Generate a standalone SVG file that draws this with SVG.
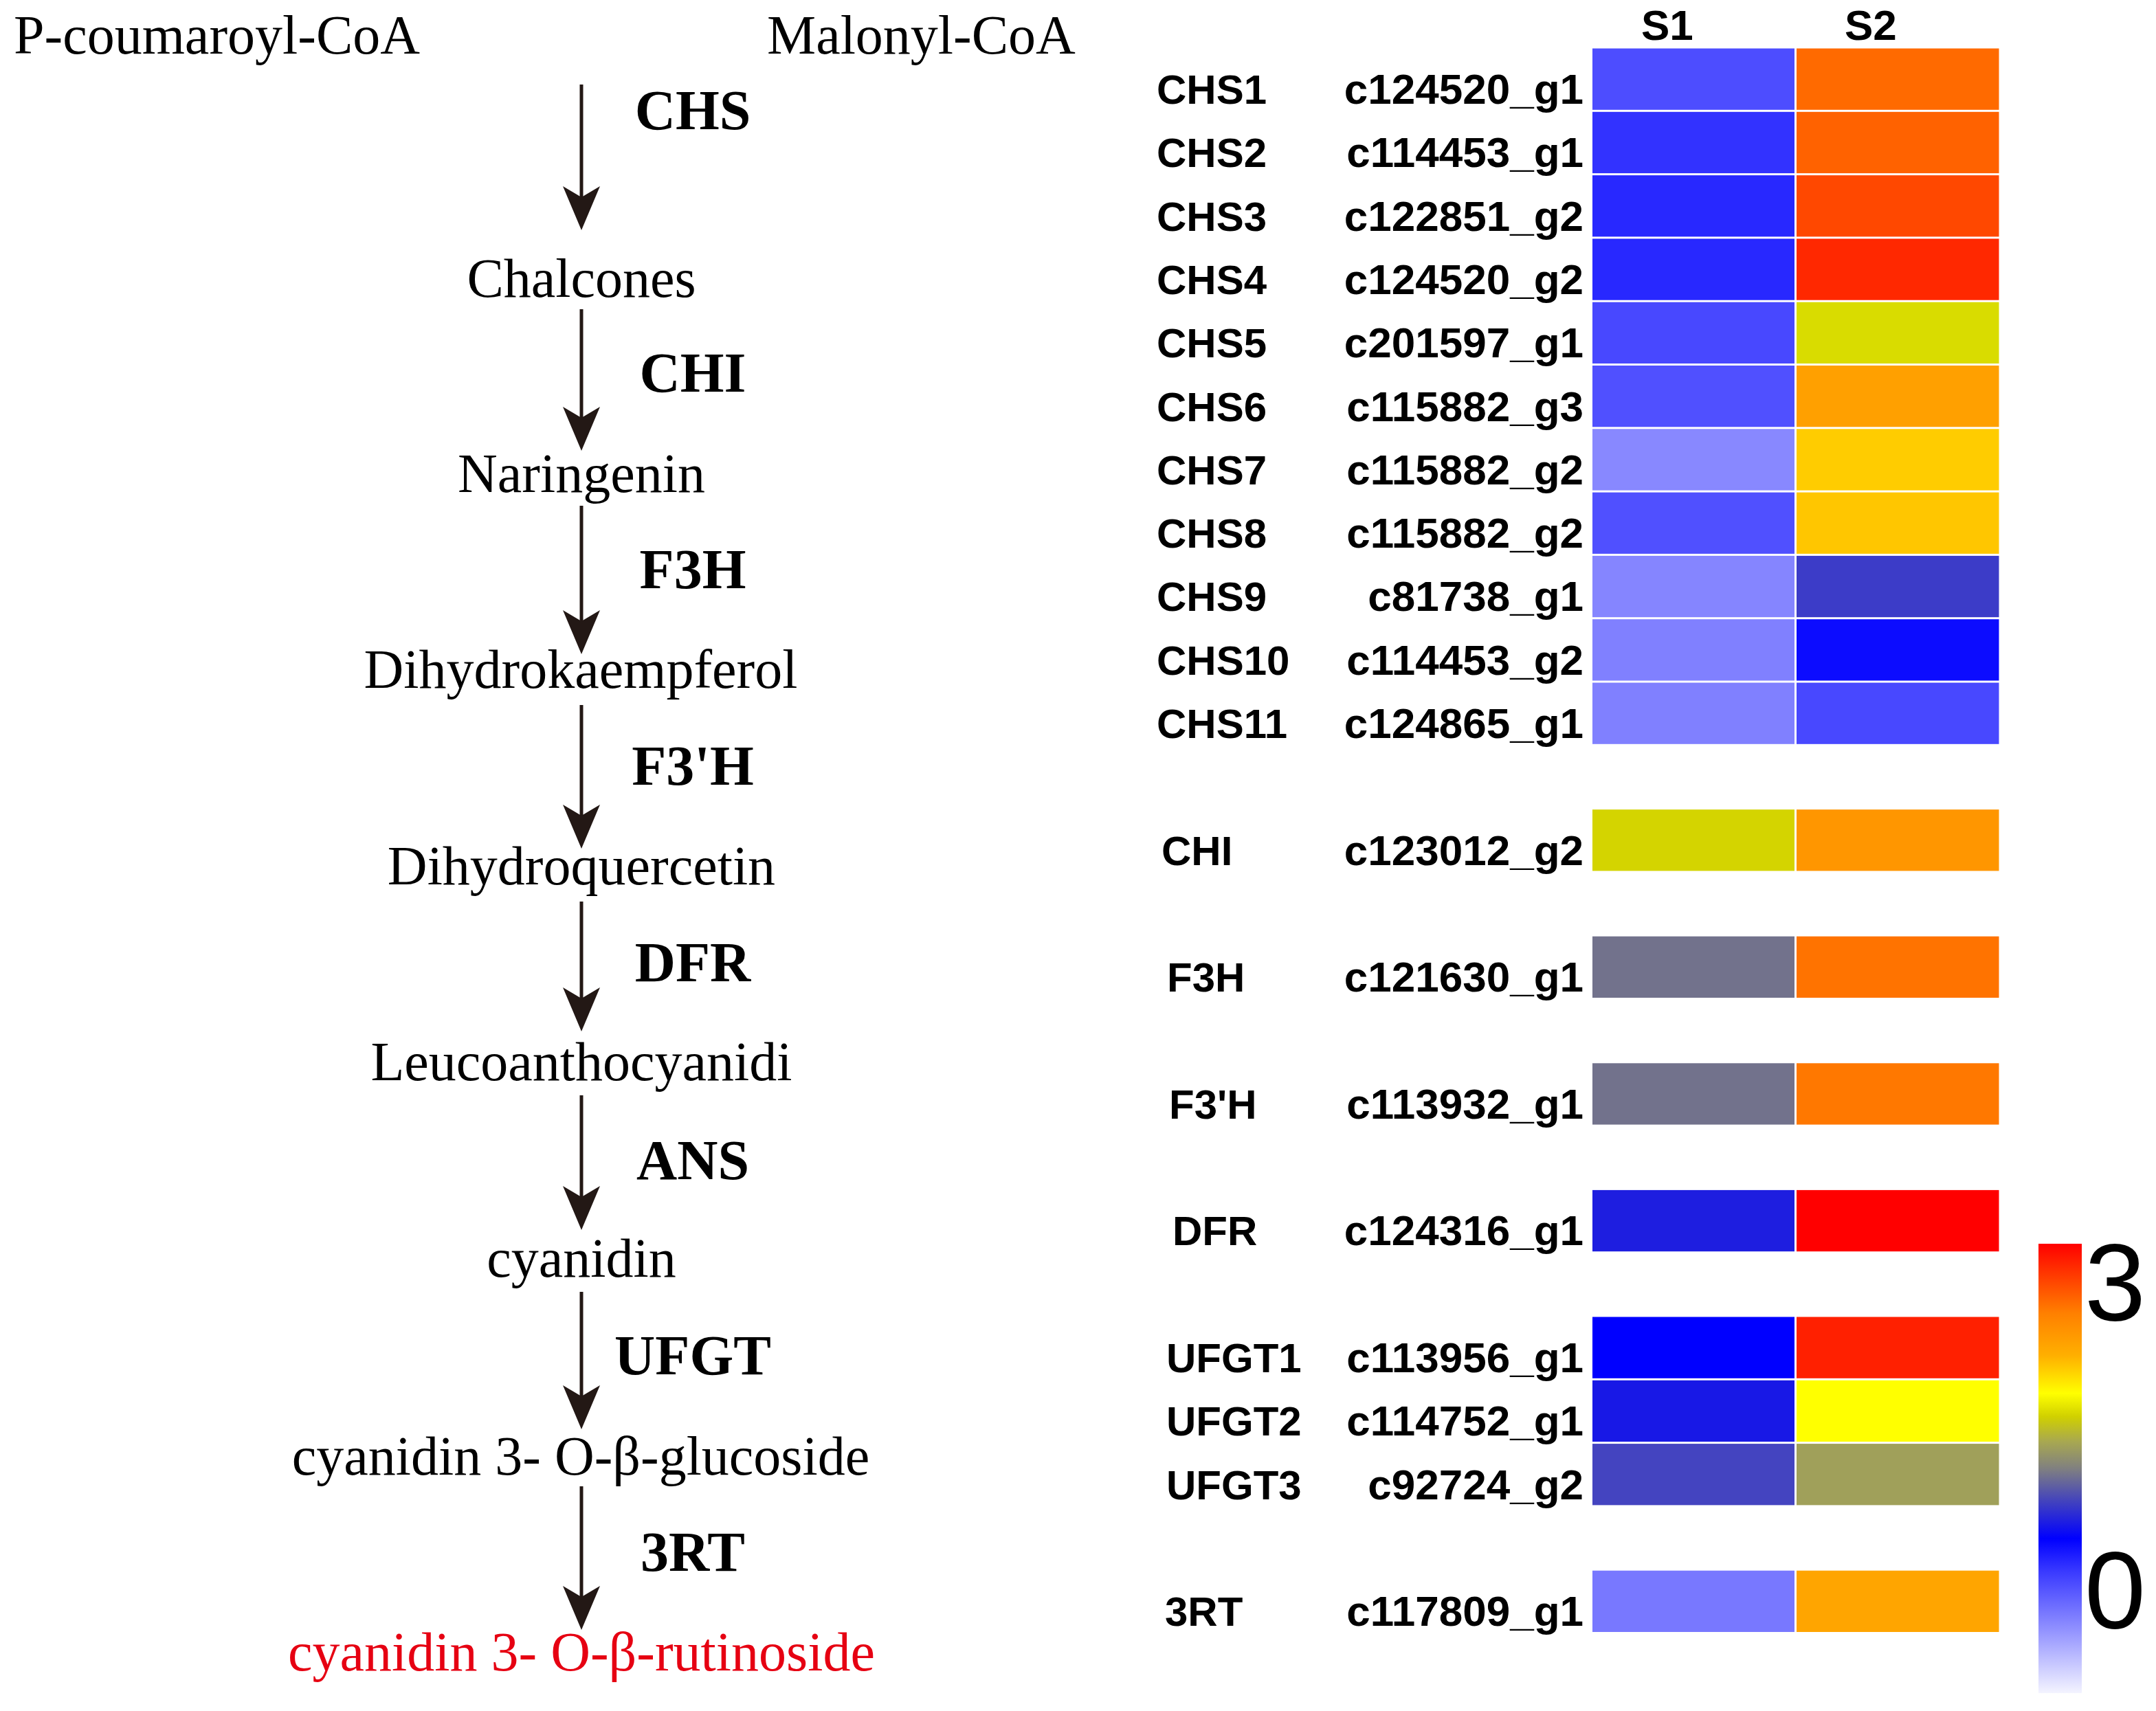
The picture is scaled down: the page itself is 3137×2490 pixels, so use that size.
<svg xmlns="http://www.w3.org/2000/svg" xmlns:xlink="http://www.w3.org/1999/xlink" width="3137" height="2490" viewBox="0 0 3137 2490">
<style>
.cmp{font-family:"Liberation Serif","Times New Roman",serif;font-size:80px;fill:#000;text-anchor:middle}
.src{font-family:"Liberation Serif","Times New Roman",serif;font-size:80px;fill:#000}
.enz{font-family:"Liberation Serif","Times New Roman",serif;font-size:82px;font-weight:bold;fill:#000;text-anchor:middle}
.lbl{font-family:"Liberation Sans",Arial,sans-serif;font-size:60px;font-weight:bold;fill:#000}
.gid{font-family:"Liberation Sans",Arial,sans-serif;font-size:62px;font-weight:bold;fill:#000;text-anchor:end}
.hdr{font-family:"Liberation Sans",Arial,sans-serif;font-size:62px;font-weight:bold;fill:#000}
.scl{font-family:"Liberation Sans",Arial,sans-serif;font-size:160px;fill:#000}
.ln{stroke:#231815;stroke-width:5;fill:none}
.hd{fill:#231815}
</style>
<defs>
<path id="head" d="M0,0 L-27,-64 L0,-48 L27,-64 Z"/>
<linearGradient id="cbar" x1="0" y1="0" x2="0" y2="1">
<stop offset="0" stop-color="#ff0000"/>
<stop offset="0.155" stop-color="#ff8000"/>
<stop offset="0.25" stop-color="#ffb000"/>
<stop offset="0.333" stop-color="#ffff00"/>
<stop offset="0.385" stop-color="#d0d000"/>
<stop offset="0.44" stop-color="#a8a850"/>
<stop offset="0.5" stop-color="#808080"/>
<stop offset="0.566" stop-color="#4848b8"/>
<stop offset="0.656" stop-color="#0000ff"/>
<stop offset="0.73" stop-color="#3a3aff"/>
<stop offset="0.857" stop-color="#9090ff"/>
<stop offset="1" stop-color="#f4f4ff"/>
</linearGradient>
</defs>
<rect width="3137" height="2490" fill="#fff"/>

<g id="n-pcoumaroyl"><text class="src" x="20" y="78">P-coumaroyl-CoA</text></g>
<g id="n-malonyl"><text class="src" x="1116" y="78">Malonyl-CoA</text></g>
<g id="n-chalcones"><text class="cmp" x="846" y="432">Chalcones</text></g>
<g id="n-naringenin"><text class="cmp" x="846" y="716">Naringenin</text></g>
<g id="n-dihydrokaempferol"><text class="cmp" x="845" y="1001">Dihydrokaempferol</text></g>
<g id="n-dihydroquercetin"><text class="cmp" x="846" y="1287">Dihydroquercetin</text></g>
<g id="n-leucoanthocyanidi"><text class="cmp" x="846" y="1572">Leucoanthocyanidi</text></g>
<g id="n-cyanidin"><text class="cmp" x="846" y="1858">cyanidin</text></g>
<g id="n-glucoside"><text class="cmp" x="845" y="2146">cyanidin 3- O-β-glucoside</text></g>
<g id="n-rutinoside"><text class="cmp" x="846" y="2431" style="fill:#e60012">cyanidin 3- O-β-rutinoside</text></g>

<g id="connectors">
<line class="ln" x1="846" y1="123" x2="846" y2="290"/><use href="#head" class="hd" x="846" y="335"/>
<text class="enz" x="1008" y="188">CHS</text>
<line class="ln" x1="846" y1="450" x2="846" y2="611"/><use href="#head" class="hd" x="846" y="656"/>
<text class="enz" x="1008" y="570">CHI</text>
<line class="ln" x1="846" y1="736" x2="846" y2="907"/><use href="#head" class="hd" x="846" y="952"/>
<text class="enz" x="1008" y="856">F3H</text>
<line class="ln" x1="846" y1="1026" x2="846" y2="1190"/><use href="#head" class="hd" x="846" y="1235"/>
<text class="enz" x="1008" y="1142">F3'H</text>
<line class="ln" x1="846" y1="1312" x2="846" y2="1456"/><use href="#head" class="hd" x="846" y="1501"/>
<text class="enz" x="1008" y="1428">DFR</text>
<line class="ln" x1="846" y1="1594" x2="846" y2="1745"/><use href="#head" class="hd" x="846" y="1790"/>
<text class="enz" x="1008" y="1716">ANS</text>
<line class="ln" x1="846" y1="1880" x2="846" y2="2035"/><use href="#head" class="hd" x="846" y="2080"/>
<text class="enz" x="1008" y="2000">UFGT</text>
<line class="ln" x1="846" y1="2163" x2="846" y2="2327"/><use href="#head" class="hd" x="846" y="2372"/>
<text class="enz" x="1008" y="2286">3RT</text>
</g>

<g id="heatmap-header">
<text class="hdr" x="2388" y="58">S1</text>
<text class="hdr" x="2684" y="58">S2</text>
</g>

<g id="row-CHS1"><text class="lbl" x="1683" y="151">CHS1</text><text class="gid" x="2304" y="151">c124520_g1</text>
<rect x="2317" y="70.5" width="294" height="89.3" fill="#4d4dff"/><rect x="2614" y="70.5" width="294.5" height="89.3" fill="#ff6a00"/></g>
<g id="row-CHS2"><text class="lbl" x="1683" y="243.3">CHS2</text><text class="gid" x="2304" y="243.3">c114453_g1</text>
<rect x="2317" y="162.8" width="294" height="89.3" fill="#3232ff"/><rect x="2614" y="162.8" width="294.5" height="89.3" fill="#ff6200"/></g>
<g id="row-CHS3"><text class="lbl" x="1683" y="335.6">CHS3</text><text class="gid" x="2304" y="335.6">c122851_g2</text>
<rect x="2317" y="255.1" width="294" height="89.3" fill="#2828ff"/><rect x="2614" y="255.1" width="294.5" height="89.3" fill="#ff4800"/></g>
<g id="row-CHS4"><text class="lbl" x="1683" y="427.9">CHS4</text><text class="gid" x="2304" y="427.9">c124520_g2</text>
<rect x="2317" y="347.4" width="294" height="89.3" fill="#2828ff"/><rect x="2614" y="347.4" width="294.5" height="89.3" fill="#ff2800"/></g>
<g id="row-CHS5"><text class="lbl" x="1683" y="520.2">CHS5</text><text class="gid" x="2304" y="520.2">c201597_g1</text>
<rect x="2317" y="439.7" width="294" height="89.3" fill="#4848ff"/><rect x="2614" y="439.7" width="294.5" height="89.3" fill="#d9dc00"/></g>
<g id="row-CHS6"><text class="lbl" x="1683" y="612.5">CHS6</text><text class="gid" x="2304" y="612.5">c115882_g3</text>
<rect x="2317" y="532" width="294" height="89.3" fill="#5050ff"/><rect x="2614" y="532" width="294.5" height="89.3" fill="#ffa000"/></g>
<g id="row-CHS7"><text class="lbl" x="1683" y="704.8">CHS7</text><text class="gid" x="2304" y="704.8">c115882_g2</text>
<rect x="2317" y="624.3" width="294" height="89.3" fill="#8888ff"/><rect x="2614" y="624.3" width="294.5" height="89.3" fill="#ffcc00"/></g>
<g id="row-CHS8"><text class="lbl" x="1683" y="797.1">CHS8</text><text class="gid" x="2304" y="797.1">c115882_g2</text>
<rect x="2317" y="716.6" width="294" height="89.3" fill="#5050ff"/><rect x="2614" y="716.6" width="294.5" height="89.3" fill="#ffc600"/></g>
<g id="row-CHS9"><text class="lbl" x="1683" y="889.4">CHS9</text><text class="gid" x="2304" y="889.4">c81738_g1</text>
<rect x="2317" y="808.9" width="294" height="89.3" fill="#8585ff"/><rect x="2614" y="808.9" width="294.5" height="89.3" fill="#3c3cc8"/></g>
<g id="row-CHS10"><text class="lbl" x="1683" y="981.7">CHS10</text><text class="gid" x="2304" y="981.7">c114453_g2</text>
<rect x="2317" y="901.2" width="294" height="89.3" fill="#8080ff"/><rect x="2614" y="901.2" width="294.5" height="89.3" fill="#0c0cff"/></g>
<g id="row-CHS11"><text class="lbl" x="1683" y="1074">CHS11</text><text class="gid" x="2304" y="1074">c124865_g1</text>
<rect x="2317" y="993.5" width="294" height="89.3" fill="#8080ff"/><rect x="2614" y="993.5" width="294.5" height="89.3" fill="#4848ff"/></g>
<g id="row-CHI"><text class="lbl" x="1690" y="1258.6">CHI</text><text class="gid" x="2304" y="1258.6">c123012_g2</text>
<rect x="2317" y="1178.1" width="294" height="89.3" fill="#d4d400"/><rect x="2614" y="1178.1" width="294.5" height="89.3" fill="#ff9600"/></g>
<g id="row-F3H"><text class="lbl" x="1698" y="1443.2">F3H</text><text class="gid" x="2304" y="1443.2">c121630_g1</text>
<rect x="2317" y="1362.7" width="294" height="89.3" fill="#72728c"/><rect x="2614" y="1362.7" width="294.5" height="89.3" fill="#ff7300"/></g>
<g id="row-F3pH"><text class="lbl" x="1701" y="1627.8">F3'H</text><text class="gid" x="2304" y="1627.8">c113932_g1</text>
<rect x="2317" y="1547.3" width="294" height="89.3" fill="#72728c"/><rect x="2614" y="1547.3" width="294.5" height="89.3" fill="#ff7800"/></g>
<g id="row-DFR"><text class="lbl" x="1706" y="1812.4">DFR</text><text class="gid" x="2304" y="1812.4">c124316_g1</text>
<rect x="2317" y="1731.9" width="294" height="89.3" fill="#1e1ee0"/><rect x="2614" y="1731.9" width="294.5" height="89.3" fill="#ff0000"/></g>
<g id="row-UFGT1"><text class="lbl" x="1697" y="1997">UFGT1</text><text class="gid" x="2304" y="1997">c113956_g1</text>
<rect x="2317" y="1916.5" width="294" height="89.3" fill="#0000ff"/><rect x="2614" y="1916.5" width="294.5" height="89.3" fill="#ff2000"/></g>
<g id="row-UFGT2"><text class="lbl" x="1697" y="2089.3">UFGT2</text><text class="gid" x="2304" y="2089.3">c114752_g1</text>
<rect x="2317" y="2008.8" width="294" height="89.3" fill="#1818e6"/><rect x="2614" y="2008.8" width="294.5" height="89.3" fill="#ffff00"/></g>
<g id="row-UFGT3"><text class="lbl" x="1697" y="2181.6">UFGT3</text><text class="gid" x="2304" y="2181.6">c92724_g2</text>
<rect x="2317" y="2101.1" width="294" height="89.3" fill="#4444c0"/><rect x="2614" y="2101.1" width="294.5" height="89.3" fill="#a0a05a"/></g>
<g id="row-3RT"><text class="lbl" x="1695" y="2366.2">3RT</text><text class="gid" x="2304" y="2366.2">c117809_g1</text>
<rect x="2317" y="2285.7" width="294" height="89.3" fill="#7878ff"/><rect x="2614" y="2285.7" width="294.5" height="89.3" fill="#ffa500"/></g>

<g id="colorbar">
<rect x="2966" y="1810" width="63" height="654" fill="url(#cbar)"/>
<text class="scl" x="3033" y="1921">3</text>
<text class="scl" x="3033" y="2369">0</text>
</g>
</svg>
